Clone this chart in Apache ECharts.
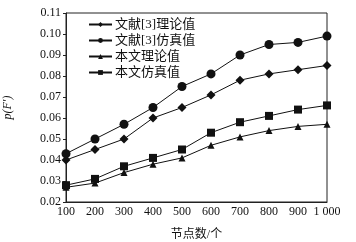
<!DOCTYPE html>
<html>
<head>
<meta charset="utf-8">
<script src="https://cdn.jsdelivr.net/npm/echarts@6/dist/echarts.min.js"></script>
<style>
  html, body { margin: 0; padding: 0; background: #fff; }
  #chart { width: 356px; height: 242px; }
</style>
</head>
<body>
<div id="chart"></div>
<script>
// 节点数
var nodes = [100, 200, 300, 400, 500, 600, 700, 800, 900, 1000];
// 四条曲线
var refTheory = [0.040, 0.045, 0.050, 0.060, 0.065, 0.071, 0.078, 0.081, 0.083, 0.085];
var refSim    = [0.043, 0.050, 0.057, 0.065, 0.075, 0.081, 0.090, 0.095, 0.096, 0.099];
var ourTheory = [0.027, 0.029, 0.034, 0.038, 0.041, 0.047, 0.051, 0.054, 0.056, 0.057];
var ourSim    = [0.028, 0.031, 0.037, 0.041, 0.045, 0.053, 0.058, 0.061, 0.064, 0.066];
var seriesNames = ['文献[3]理论值', '文献[3]仿真值', '本文理论值', '本文仿真值'];

var serif = '"Liberation Serif", "Noto Sans CJK SC", serif';

function pairs(vals) {
    return nodes.map(function (n, i) { return [n, vals[i]]; });
}

var chart = echarts.init(document.getElementById('chart'));

function mk(name, vals, symbol, size) {
    return {
        name: name,
        type: 'line',
        data: pairs(vals),
        symbol: symbol,
        symbolSize: size,
        lineStyle: { color: '#111', width: 1 },
        itemStyle: { color: '#111' },
        animation: false
    };
}

var option = {
    animation: false,
    grid: {
        left: 66, right: 29, top: 13, bottom: 40,
        outerBoundsMode: 'none',
        show: true, borderColor: '#222', borderWidth: 1
    },
    legend: {
        orient: 'vertical',
        left: 83, top: 13,
        itemWidth: 23, itemHeight: 6, itemGap: 3,
        textStyle: { fontFamily: serif, fontSize: 13, color: '#111', padding: [0, 0, 0, -2] },
        data: seriesNames
    },
    xAxis: {
        type: 'value',
        min: 100, max: 1000, interval: 100,
        name: '节点数/个',
        nameLocation: 'middle',
        nameGap: 27,
        nameTextStyle: { fontFamily: serif, fontSize: 12, color: '#111' },
        axisLine: { lineStyle: { color: '#222' } },
        axisTick: { show: false },
        splitLine: { show: false },
        axisLabel: {
            fontFamily: serif, fontSize: 12, color: '#111', margin: 4,
            formatter: function (v) { return v === 1000 ? '1 000' : String(v); }
        }
    },
    yAxis: {
        type: 'value',
        min: 0.02, max: 0.11, interval: 0.01,
        name: 'p(F′)',
        nameLocation: 'middle',
        nameGap: 52,
        nameTextStyle: { fontFamily: serif, fontSize: 12, fontStyle: 'italic', color: '#111' },
        axisLine: { show: true, lineStyle: { color: '#222' } },
        axisTick: { show: true, length: 3, lineStyle: { color: '#222' } },
        splitLine: { show: false },
        axisLabel: {
            fontFamily: serif, fontSize: 12, color: '#111', margin: 5,
            formatter: function (v) { return v.toFixed(2); }
        }
    },
    series: [
        mk(seriesNames[0], refTheory, 'diamond', 9),
        mk(seriesNames[1], refSim, 'circle', 9),
        mk(seriesNames[2], ourTheory, 'triangle', 7),
        mk(seriesNames[3], ourSim, 'rect', 8)
    ]
};

chart.setOption(option);
</script>
</body>
</html>
